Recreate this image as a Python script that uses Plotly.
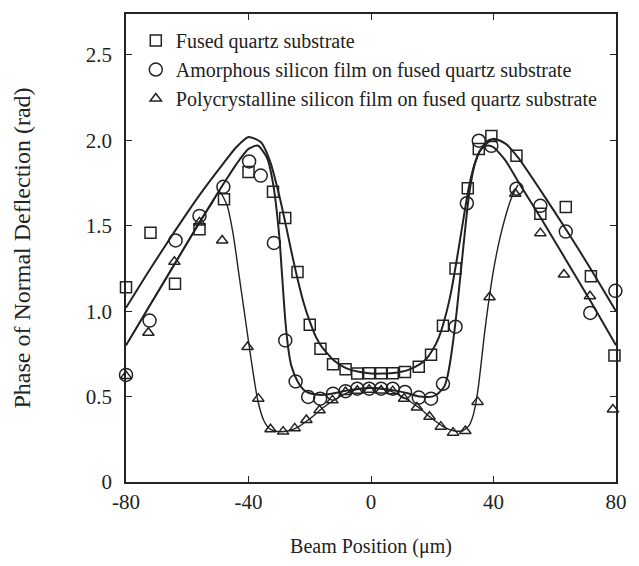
import plotly.graph_objects as go

# ---- measured data points ----
fq_x = [-80, -72, -64, -56, -48, -40, -32, -28, -24, -20, -16.5, -12.4, -8.3, -4.5, -0.6,
        3.3, 7.1, 11.1, 15.6, 19.6, 23.5, 27.6, 31.6, 35.2, 39.3, 47.5, 55.3, 63.6, 71.8, 79.5]
fq_y = [1.14, 1.46, 1.16, 1.48, 1.655, 1.815, 1.70, 1.545, 1.23, 0.92, 0.78, 0.69, 0.66, 0.635, 0.637,
        0.637, 0.637, 0.644, 0.675, 0.745, 0.915, 1.25, 1.72, 1.95, 2.025, 1.91, 1.57, 1.61, 1.205, 0.74]

am_x = [-80, -72.3, -63.8, -56, -48.2, -39.8, -36, -31.7, -28, -24.6, -20.5, -16.6, -12.4, -8.3, -4.5,
        -0.6, 3.3, 7.1, 11.1, 15.6, 19.6, 23.5, 27.6, 31.3, 35.2, 39.3, 47.5, 55.3, 63.6, 71.6, 79.8]
am_y = [0.627, 0.945, 1.414, 1.558, 1.728, 1.877, 1.794, 1.40, 0.829, 0.589, 0.498, 0.488, 0.517, 0.532, 0.546,
        0.546, 0.546, 0.546, 0.527, 0.494, 0.488, 0.575, 0.909, 1.632, 1.998, 1.968, 1.717, 1.617, 1.466, 0.99, 1.119]

pc_x = [-80, -72.7, -64.2, -56, -48.6, -40.3, -36.8, -32.8, -28.7, -24.9, -21.1, -16.8, -12.6, -8.3, -4.5,
        -0.6, 3.3, 7.1, 10.8, 15.0, 19.1, 22.8, 26.8, 30.8, 34.8, 38.7, 47.1, 55.3, 63.0, 71.5, 79.0]
pc_y = [0.62, 0.874, 1.289, 1.52, 1.414, 0.79, 0.488, 0.309, 0.295, 0.314, 0.363, 0.42, 0.478, 0.527, 0.534,
        0.54, 0.536, 0.532, 0.488, 0.436, 0.382, 0.324, 0.289, 0.299, 0.469, 1.082, 1.688, 1.457, 1.215, 1.088, 0.424]

# ---- fitted curves ----
fq_cx = [-80, -72, -64, -56, -48, -44, -40, -36, -33, -30, -28, -26, -24, -22, -20, -18, -16, -12, -8, -4, 0,
         4, 8, 12, 16, 18, 20, 22, 24, 26, 28, 30, 32, 34, 36, 40, 44, 48, 56, 64, 72, 80]
fq_cy = [1.02, 1.25, 1.47, 1.68, 1.87, 1.96, 2.02, 1.99, 1.88, 1.68, 1.52, 1.35, 1.19, 1.05, 0.94, 0.85, 0.79, 0.71,
         0.665, 0.645, 0.635, 0.635, 0.64, 0.655, 0.69, 0.72, 0.77, 0.84, 0.95, 1.10, 1.30, 1.52, 1.73, 1.87, 1.95,
         2.01, 1.98, 1.90, 1.69, 1.47, 1.24, 1.00]

am_cx = [-80, -72, -64, -56, -48, -44, -40, -37, -34, -32, -30, -29, -28, -27, -26, -24, -22, -20, -16, -12, -8,
         -4, 0, 4, 8, 12, 16, 20, 22, 24, 25, 26, 27, 28, 30, 32, 34, 36, 38, 40, 44, 48, 56, 64, 72, 80]
am_cy = [0.80, 1.04, 1.28, 1.52, 1.75, 1.86, 1.95, 1.97, 1.90, 1.75, 1.45, 1.20, 0.95, 0.78, 0.68, 0.59, 0.54,
         0.52, 0.51, 0.52, 0.535, 0.545, 0.55, 0.545, 0.535, 0.52, 0.50, 0.50, 0.52, 0.56, 0.62, 0.72, 0.85, 1.00,
         1.35, 1.68, 1.87, 1.95, 1.97, 1.96, 1.88, 1.76, 1.53, 1.29, 1.05, 0.80]

pc_cx = [-80, -72, -64, -56, -52, -49.5, -47, -45, -43, -41, -39, -37, -35, -33, -30, -27, -24, -20, -16, -12,
         -8, -4, 0, 4, 8, 12, 16, 20, 24, 27, 30, 32, 33, 34, 35, 36, 37, 38, 40, 42, 44, 46, 48]
pc_cy = [0.80, 1.04, 1.28, 1.52, 1.63, 1.70, 1.62, 1.45, 1.20, 0.95, 0.70, 0.48, 0.36, 0.31, 0.295, 0.30, 0.32,
         0.37, 0.43, 0.48, 0.52, 0.545, 0.55, 0.545, 0.52, 0.48, 0.43, 0.37, 0.32, 0.30, 0.30, 0.33, 0.37, 0.44,
         0.55, 0.70, 0.86, 1.00, 1.24, 1.42, 1.56, 1.67, 1.74]

labels = ["Fused quartz substrate",
          "Amorphous silicon film on fused quartz substrate",
          "Polycrystalline silicon film on fused quartz substrate"]

x_ticks = [-80, -40, 0, 40, 80]
x_ticktext = ["-80", "-40", "0", "40", "80"]
y_ticks = [0, 0.5, 1.0, 1.5, 2.0, 2.5]
y_ticktext = ["0", "0.5", "1.0", "1.5", "2.0", "2.5"]

FONT = "Liberation Serif, Times New Roman, serif"
fig = go.Figure()

for cx, cy, w in [(fq_cx, fq_cy, 2.0), (am_cx, am_cy, 2.0), (pc_cx, pc_cy, 1.4)]:
    fig.add_trace(go.Scatter(x=cx, y=cy, mode="lines", showlegend=False,
                             line=dict(color="#222", width=w, shape="spline", smoothing=0.6),
                             hoverinfo="skip"))

markers = [("square-open", 11, fq_x, fq_y), ("circle-open", 13, am_x, am_y), ("triangle-up-open", 10, pc_x, pc_y)]
for i, (sym, sz, xs, ys) in enumerate(markers):
    fig.add_trace(go.Scatter(x=xs, y=ys, mode="markers", name=labels[i], legendgroup=str(i),
                             cliponaxis=False,
                             marker=dict(symbol=sym, size=sz, color="#222",
                                         line=dict(color="#222", width=1.5))))

fig.update_layout(
    width=639, height=566,
    margin=dict(l=126, r=12, t=12, b=80),
    paper_bgcolor="white", plot_bgcolor="white",
    font=dict(family=FONT, size=21, color="#222"),
    showlegend=True,
    legend=dict(x=0.02, y=0.985, xanchor="left", yanchor="top", bgcolor="rgba(0,0,0,0)",
                font=dict(family=FONT, size=20, color="#222"), tracegroupgap=0, itemwidth=30),
    xaxis=dict(range=[-80, 80], tickvals=x_ticks, ticktext=x_ticktext, ticks="inside", ticklen=6,
               tickcolor="#222", tickwidth=1.3, showline=True, linecolor="#222", linewidth=1.8,
               mirror="ticks", showgrid=False, zeroline=False, tickfont=dict(size=21),
               title=dict(text="Beam Position (\u03bcm)", font=dict(family=FONT, size=20), standoff=26)),
    yaxis=dict(range=[0, 2.74], tickvals=y_ticks, ticktext=y_ticktext, ticks="inside", ticklen=6,
               tickcolor="#222", tickwidth=1.3, showline=True, linecolor="#222", linewidth=1.8,
               mirror="ticks", showgrid=False, zeroline=False, ticklabelstandoff=8, tickfont=dict(size=21),
               title=dict(text="Phase of Normal Deflection (rad)", font=dict(family=FONT, size=24), standoff=48)),
)

fig.write_html("out.html")
